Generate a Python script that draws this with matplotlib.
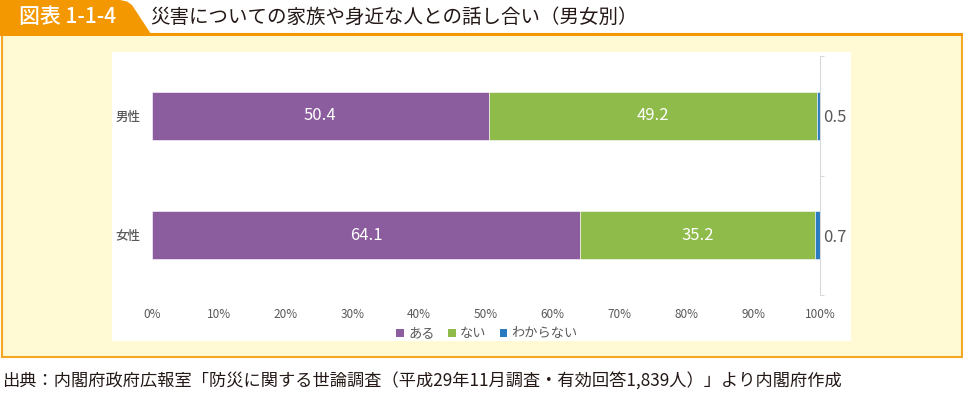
import matplotlib
matplotlib.use('Agg')
import matplotlib.pyplot as plt
from matplotlib.patches import Rectangle, Polygon, Patch

plt.rcParams['font.family'] = ['Noto Sans CJK JP', 'DejaVu Sans']

# data
categories = ['男性', '女性']
aru = [50.4, 64.1]
nai = [49.2, 35.2]
wakaranai = [0.5, 0.7]
series_names = ['ある', 'ない', 'わからない']
xticks = list(range(0, 101, 10))

title = '災害についての家族や身近な人との話し合い（男女別）'
fig_no = '図表 1-1-4'
source = '出典：内閣府政府広報室「防災に関する世論調査（平成29年11月調査・有効回答1,839人）」より内閣府作成'

W, H = 963, 393
ORANGE = '#F39800'
YELLOW = '#FFFAD3'
GRAY = '#595959'
colors = ['#8B5D9E', '#8FBB4B', '#2A7ABF']


def fx(x):
    return x / W


def fy(y):
    return 1 - y / H


if __name__ == '__main__':

    fig = plt.figure(figsize=(W / 100, H / 100), dpi=100)
    fig.patch.set_facecolor('white')

    # yellow panel with orange border
    fig.add_artist(Rectangle((fx(1.5), fy(357)), fx(960), (357 - 34) / H, transform=fig.transFigure,
                             facecolor=YELLOW, edgecolor='#F5A623', linewidth=1.5, zorder=-3))
    # white chart area
    fig.add_artist(Rectangle((fx(112), fy(341)), fx(739), (341 - 52) / H, transform=fig.transFigure,
                             facecolor='white', edgecolor='none', zorder=-2))
    # header tab and rule
    tab = [(0, 0), (120, 0), (127, 1.5), (132, 5), (151, 34), (0, 34)]
    fig.add_artist(Polygon([(fx(x), fy(y)) for x, y in tab], closed=True, transform=fig.transFigure,
                           facecolor=ORANGE, edgecolor='none', zorder=-1))
    fig.add_artist(Rectangle((0, fy(35.5)), 1, 2.5 / H, transform=fig.transFigure,
                             facecolor=ORANGE, edgecolor='none', zorder=-1))

    fig.text(fx(19), fy(17), fig_no, color='white', fontsize=15, fontweight='medium', ha='left', va='center')
    fig.text(fx(150), fy(17), title, color='#231815', fontsize=14, ha='left', va='center')
    fig.text(fx(2), fy(382), source, color='#231815', fontsize=12.4, ha='left', va='center')

    # chart
    ax = fig.add_axes([fx(152), fy(295), (820 - 152) / W, (295 - 56) / H])
    ax.set_facecolor('none')
    y = list(range(len(categories)))
    lefts = [0] * len(categories)
    for vals, col in zip([aru, nai, wakaranai], colors):
        ax.barh(y, vals, left=lefts, height=0.4, color=col, edgecolor='white', linewidth=0.4, zorder=2)
        lefts = [l + v for l, v in zip(lefts, vals)]

    for i in y:
        ax.text(aru[i] / 2, i, f'{aru[i]:.1f}', color='white', fontsize=12, ha='center', va='center', zorder=3)
        ax.text(aru[i] + nai[i] / 2, i, f'{nai[i]:.1f}', color='white', fontsize=12, ha='center', va='center', zorder=3)
        ax.annotate(f'{wakaranai[i]:.1f}', (100, i), xytext=(2, -1.5), textcoords='offset points',
                    color=GRAY, fontsize=12, ha='left', va='center', annotation_clip=False)

    ax.set_xlim(0, 100)
    ax.set_ylim(1.5, -0.5)
    ax.set_xticks(xticks)
    ax.set_xticklabels([f'{t}%' for t in xticks])
    ax.set_yticks(y)
    ax.set_yticklabels(categories, fontweight='medium')
    ax.set_yticks([-0.5, 0.5, 1.5], minor=True)
    ax.tick_params(axis='x', bottom=False, labelsize=8.5, labelcolor=GRAY, pad=6)
    ax.tick_params(axis='y', which='major', left=False, right=False, labelsize=9, labelcolor=GRAY, pad=5)
    ax.tick_params(axis='y', which='minor', left=False, right=True, direction='out', length=3,
                   color='#D9D9D9', width=0.8)
    for side in ['top', 'bottom', 'left']:
        ax.spines[side].set_visible(False)
    ax.spines['right'].set_color('#D9D9D9')
    ax.spines['right'].set_linewidth(0.8)

    handles = [Patch(facecolor=c, edgecolor='none') for c in colors]
    fig.legend(handles, series_names, loc='center', bbox_to_anchor=(fx(487), fy(334)), ncol=3,
               frameon=False, fontsize=9.5, labelcolor=GRAY, handlelength=0.6, handleheight=0.6,
               handletextpad=0.3, columnspacing=1.0)

    fig.savefig('out.png', dpi=100)
